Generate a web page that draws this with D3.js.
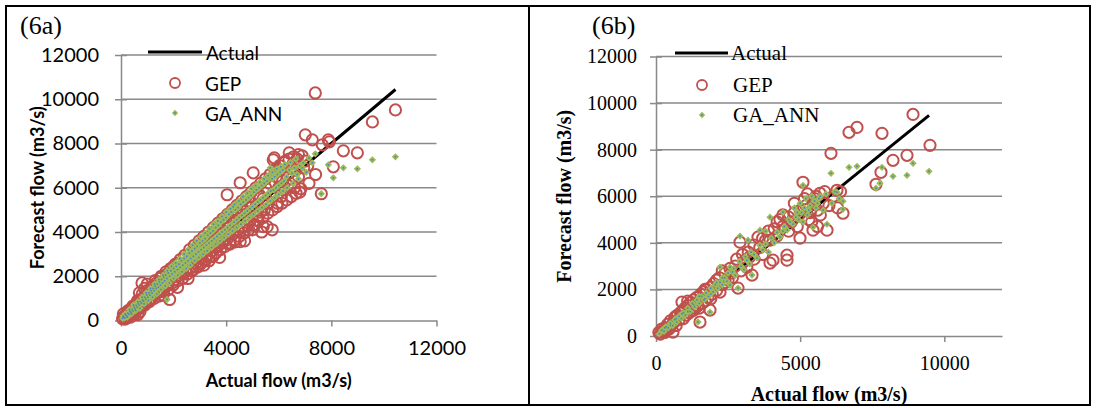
<!DOCTYPE html>
<html><head><meta charset="utf-8">
<script src="https://cdn.jsdelivr.net/npm/d3@7"></script>
<style>body{margin:0;background:#fff}svg{display:block}</style>
</head><body>
<svg id="c" width="1097" height="408"></svg>
<script>
// ---------- DATA ----------
const panelLabels = ["(6a)", "(6b)"];
const seriesNames = ["Actual", "GEP", "GA_ANN"];
const xTickValuesA = [0, 4000, 8000, 12000];
const xTickValuesB = [0, 5000, 10000];
const yTickValues = [0, 2000, 4000, 6000, 8000, 10000, 12000];
const axisTitleX = "Actual flow (m3/s)";
const axisTitleY = "Forecast flow (m3/s)";

// Actual (1:1) line endpoints [actual, actual]
const actualLineA = [[60, 60], [10440, 10440]];
const actualLineB = [[100, 100], [9470, 9470]];

// (6a) GEP [actual, forecast]
const gepA = [[60,80],[120,200],[150,60],[200,300],[250,150],[300,420],[320,230],[380,300],[420,560],[450,350],[500,620],[520,420],[560,740],[600,500],[640,270],[680,860],[700,1250],[720,560],[760,900],[800,1700],[820,700],[860,1050],[900,1450],[940,800],[980,1150],[1000,1650],[1050,900],[1100,1300],[1150,1000],[1200,1550],[1250,1150],[1300,1800],[1350,1250],[1400,1600],[1450,1300],[1500,1900],[1550,1400],[1600,1150],[1650,1800],[1700,1550],[1750,2100],[1800,1650],[1850,950],[1900,2000],[1950,1700],[2000,2450],[2050,1850],[2100,2200],[2150,1500],[2200,2600],[2250,2050],[2300,2400],[2350,2100],[2400,2800],[2450,2200],[2500,2600],[2550,1900],[2600,3000],[2650,2400],[2700,2800],[2750,2300],[2800,3150],[2850,2600],[2900,3000],[2950,2450],[3000,3400],[3050,2800],[3100,3200],[3150,2500],[3200,3500],[3250,2950],[3300,3400],[3350,2700],[3400,3800],[3450,3150],[3500,2900],[3550,3700],[3600,3300],[3650,4000],[3700,3400],[3750,2850],[3800,4100],[3850,3500],[3900,4300],[3950,3600],[4038,5683],[4000,4500],[4050,3700],[4100,4200],[4150,3500],[4200,4700],[4250,3900],[4300,4400],[4350,3550],[4400,4900],[4450,4100],[4500,4600],[4533,6225],[4533,3563],[4600,4200],[4650,5000],[4700,3600],[4750,4800],[4800,4300],[4850,5400],[4900,4500],[4950,5100],[5000,4100],[5029,6676],[5100,4330],[5150,5200],[5200,4700],[5250,5700],[5300,4900],[5350,4000],[5410,4240],[5400,5500],[5450,5000],[5500,6000],[5560,4240],[5600,5300],[5650,6200],[5700,5600],[5750,4100],[5790,7260],[5829,7352],[5850,5800],[5900,6500],[5950,5300],[6000,6000],[6050,6800],[6100,5600],[6150,6300],[6200,5900],[6250,7200],[6300,6600],[6350,6100],[6400,7580],[6450,6900],[6500,6400],[6550,7100],[6600,6000],[6650,6800],[6700,7300],[6750,6500],[6800,5800],[6895,7440],[6950,6900],[7010,8390],[7100,7000],[7276,8165],[7390,10284],[7400,6600],[7619,5728],[7657,7940],[7886,8165],[7924,8074],[8076,6946],[8457,7668],[8990,7578],[9562,8976],[10438,9517],
[90,300],[180,100],[270,450],[360,150],[450,650],[540,300],[630,900],[720,400],[810,1200],[900,700],[990,1350],[1080,850],[1170,1500],[1260,1000],[1350,1700],[1440,1100],[1530,2000],[1620,1300],[1710,2200],[1800,1400],[1890,2350],[1980,1600],[2070,2550],[2160,1800],[2250,2750],[2340,1900],[2430,2950],[2520,2100],[2610,3200],[2700,2250],[2790,3400],[2880,2400],[2970,3600],[3060,2600],[3150,3800],[3240,2750],[3330,4000],[3420,2900],[3510,4200],[3600,3050],[3690,4400],[3780,3200],[3870,4600],[3960,3350],[4050,4800],[4140,3450],[4230,5000],[4320,3650],[4410,5200],[4500,3800],[4590,5400],[4680,3950],[4770,5600],[4860,4100],[4950,5800],[5040,4300],[5130,6000],[5220,4500],[5310,6200],[5400,4650],[5490,6400],[5580,4850],[5670,6600],[5760,5000],[5850,6800],[5940,5150],[6030,7000],[6120,5300],[6210,7150],[6300,5450],[6390,7300],[6480,5600],[6570,7400],[6660,5750],[6750,7500],[6840,5950],[7000,7200],[7150,6200]];

// (6a) GA_ANN [actual, forecast]
const annA = [[60,100],[100,150],[140,120],[180,250],[220,200],[260,330],[300,280],[340,420],[380,360],[420,500],[460,430],[500,600],[540,520],[580,680],[620,600],[660,760],[700,700],[740,850],[780,780],[820,930],[860,870],[900,1050],[940,960],[980,1150],[1020,1050],[1060,1250],[1100,1150],[1140,1350],[1180,1250],[1220,1450],[1260,1350],[1300,1550],[1340,1450],[1380,1650],[1420,1500],[1460,1750],[1500,1600],[1540,1850],[1580,1700],[1620,1950],[1660,1800],[1700,2050],[1752,950],[1750,1900],[1800,2150],[1850,2000],[1900,2250],[1950,2100],[2000,2350],[2050,2200],[2100,2450],[2150,2300],[2200,2550],[2250,2400],[2300,2700],[2350,2500],[2400,2800],[2450,2600],[2500,2900],[2550,2700],[2600,3050],[2650,2800],[2700,3150],[2750,2900],[2800,3250],[2850,3000],[2900,3350],[2950,3100],[3000,3500],[3050,3200],[3100,3600],[3150,3300],[3200,3700],[3250,3400],[3300,3850],[3350,3500],[3400,3950],[3450,3600],[3500,4050],[3550,3700],[3600,4200],[3650,3800],[3700,4300],[3750,3900],[3800,4450],[3850,4000],[3900,4550],[3950,4100],[4000,4650],[4050,4200],[4100,4800],[4150,4300],[4200,4900],[4267,5142],[4300,4450],[4350,5000],[4400,4550],[4450,5100],[4500,4650],[4550,5250],[4600,4750],[4650,5350],[4700,4850],[4750,5450],[4800,4950],[4850,5550],[4900,5050],[4950,5650],[5000,5150],[5050,5800],[5100,5250],[5150,5900],[5200,5350],[5250,6000],[5300,5450],[5350,6100],[5400,5550],[5450,6200],[5500,5650],[5550,6300],[5600,5750],[5676,6900],[5700,5850],[5750,6400],[5800,5900],[5850,6500],[5900,6000],[5950,6600],[6000,6100],[6050,6700],[6100,6200],[6150,6800],[6200,6300],[6300,6500],[6400,6811],[6500,6650],[6600,6900],[6700,6600],[6800,7000],[6933,7126],[7276,7126],[7390,7533],[7619,5728],[7886,7036],[8076,6450],[8457,6901],[8990,6856],[9562,7262],[10438,7397],
[80,200],[160,300],[240,150],[320,500],[400,300],[480,700],[560,450],[640,850],[720,550],[800,1050],[880,750],[960,1250],[1040,900],[1120,1450],[1200,1050],[1280,1650],[1360,1200],[1440,1850],[1520,1400],[1600,2050],[1680,1550],[1760,2250],[1840,1700],[1920,2450],[2000,1900],[2080,2600],[2160,2050],[2240,2800],[2320,2200],[2400,3000],[2480,2350],[2560,3200],[2640,2500],[2720,3400],[2800,2700],[2880,3600],[2960,2850],[3040,3800],[3120,3000],[3200,3950],[3280,3150],[3360,4150],[3440,3300],[3520,4350],[3600,3450],[3680,4500],[3760,3600],[3840,4700],[3920,3750],[4000,4900],[4080,3900],[4160,5050],[4240,4050],[4320,5250],[4400,4200],[4480,5400],[4560,4350],[4640,5600],[4720,4500],[4800,5750],[4880,4650],[4960,5950],[5040,4800],[5120,6100],[5200,4950],[5280,6250],[5360,5100],[5440,6400],[5520,5250],[5600,6550],[5680,5400],[5760,6700],[5840,5550],[5920,6850],[6000,5700],[6080,6950],[6160,5850],[6240,7050],[6320,6000],[6450,7150],[6550,6200],[6650,7300],[6750,6400],[6900,6900],[7050,6700],[7150,7350]];

// (6b) GEP [actual, forecast]
const gepB = [[100,150],[150,80],[200,300],[250,200],[300,350],[350,250],[400,500],[450,300],[500,650],[590,170],[600,550],[650,800],[700,450],[750,900],[800,700],[850,1000],[902,1457],[950,750],[1000,1200],[1050,900],[1100,1300],[1150,1000],[1200,1450],[1250,1100],[1300,1550],[1350,1200],[1400,1650],[1450,1300],[1526,600],[1550,1800],[1600,1400],[1650,1900],[1700,1500],[1750,2000],[1800,1650],[1873,1114],[1900,2100],[1950,1800],[2000,2250],[2100,1950],[2200,2500],[2220,1886],[2300,2200],[2400,2700],[2500,2400],[2566,2900],[2650,2500],[2750,3000],[2844,2057],[2913,4029],[2950,2800],[3050,3200],[3150,2950],[3250,3400],[3330,2614],[3400,3300],[3538,4243],[3600,3800],[3700,3500],[3800,4100],[3954,4114],[3954,3129],[4058,3257],[4100,4600],[4200,4300],[4300,5000],[4400,4700],[4543,3471],[4543,3257],[4600,5100],[4700,4900],[4800,5300],[4900,4700],[4994,4200],[5098,6600],[5200,5600],[5300,5000],[5445,4543],[5500,5900],[5600,5400],[5688,6129],[5800,5700],[5931,4543],[6069,7843],[6277,6257],[6485,5271],[6694,8743],[6971,8957],[7630,6514],[7803,7029],[7838,8700],[8220,7543],[8705,7757],[8914,9514],[9503,8186],
[4800,5700],[5000,5400],[5150,5900],[5250,6100],[5350,5300],[5450,5700],[5550,6000],[5700,5200],[5850,6200],[6000,5600],[6150,6000],[6300,5500],[6400,6200],[5400,4900],[5600,4700],[4600,4500],[4400,5200],[4200,4900],[3900,4500],[3700,4200],[3400,3900],[3200,3600],[3000,3500],[2800,3300],[2600,2700],[2400,2300],[2300,2800],[2100,2400],[1900,1600],[1700,2000],[1500,1200],[1300,1100],[1100,1500],[900,1050],[700,850],[500,400],[300,150]];

// (6b) GA_ANN [actual, forecast]
const annB = [[120,100],[200,250],[280,200],[350,400],[420,350],[500,550],[580,450],[650,700],[720,600],[800,850],[880,750],[950,1000],[1020,900],[1100,1200],[1180,1050],[1260,1400],[1340,1250],[1457,600],[1420,1550],[1500,1400],[1580,1700],[1660,1550],[1740,1850],[1873,1029],[1820,1700],[1900,2050],[1980,1900],[2060,2200],[2140,2050],[2220,2957],[2220,2300],[2300,2200],[2380,2500],[2460,2350],[2566,2186],[2566,2957],[2650,2750],[2750,2600],[2844,2057],[2913,4286],[2950,3000],[3050,2850],[3191,4114],[3150,3250],[3250,3100],[3330,2614],[3400,3500],[3500,3350],[3607,4543],[3700,3700],[3800,3950],[3954,5100],[3900,3600],[4000,4200],[4100,4000],[4200,4450],[4300,4250],[4405,5314],[4450,4700],[4550,4550],[4650,4900],[4750,4800],[4850,5100],[4950,5000],[5098,6471],[5050,5300],[5150,5500],[5250,5200],[5350,5600],[5445,4671],[5500,5800],[5600,5700],[5700,6000],[5931,4800],[6069,6986],[6277,6171],[6485,5443],[6485,5786],[6694,7243],[6971,7286],[7630,6343],[7769,6557],[7838,7243],[8220,6857],[8705,6900],[8914,7414],[9468,7071],
[4800,5500],[5000,5700],[5200,5900],[5300,5400],[5400,6000],[5550,5500],[5650,5900],[5800,5400],[5900,6100],[6100,5700],[6200,6200],[6350,5900],[5100,4900],[4900,5300],[4600,5000],[4400,4500],[3800,4500],[3600,3900],[3300,3600],[3100,3400],[2900,3200],[2700,2900],[2500,2700],[2300,2500],[2100,2300],[1900,1800],[1700,1600],[1500,1700],[1300,1350],[1100,1050],[900,950],[700,750],[500,450],[300,350]];

// ---------- DRAW ----------
const svg = d3.select("#c");
const RED = "#C0504D", GREEN = "#9BBB59", BLUE = "#4F81BD", GRID = "#898989";

function drawPanel(p) {
  const g = svg.append("g");
  const x = d3.scaleLinear().domain([0, 12000]).range([p.x0, p.x1]);
  const y = d3.scaleLinear().domain([0, 12000]).range([p.y0, p.y1]);

  g.append("g").selectAll("line").data(yTickValues.filter(v => v > 0)).join("line")
    .attr("x1", p.x0).attr("x2", p.x1).attr("y1", d => y(d)).attr("y2", d => y(d))
    .attr("stroke", GRID).attr("stroke-width", 1.5);

  const ya = g.append("g").attr("transform", `translate(${p.x0},0)`)
    .call(d3.axisLeft(y).tickValues(yTickValues).tickSize(6).tickPadding(p.yPad).tickSizeOuter(0).tickFormat(d3.format("d")));
  ya.select(".domain").attr("stroke", GRID).attr("stroke-width", 1.5);
  ya.selectAll(".tick line").attr("stroke", GRID).attr("stroke-width", 1.5).attr("x2", -6).attr("x1", 6);
  ya.selectAll(".tick text").attr("font-family", p.font).attr("font-size", p.tickSize).attr("fill", "#000");

  const xa = g.append("g").attr("transform", `translate(0,${p.y0})`)
    .call(d3.axisBottom(x).tickValues(p.xTicks).tickSize(6).tickPadding(p.xPad).tickSizeOuter(0).tickFormat(d3.format("d")));
  xa.select(".domain").attr("stroke", GRID).attr("stroke-width", 1.5);
  xa.selectAll(".tick line").attr("stroke", GRID).attr("stroke-width", 1.5);
  xa.selectAll(".tick text").attr("font-family", p.font).attr("font-size", p.tickSize).attr("fill", "#000");

  g.append("path").datum(p.line)
    .attr("d", d3.line().x(d => x(d[0])).y(d => y(d[1])))
    .attr("stroke", "#000").attr("stroke-width", 3).attr("fill", "none");

  g.append("g").selectAll("circle").data(p.gep).join("circle")
    .attr("cx", d => x(d[0])).attr("cy", d => y(d[1])).attr("r", 5.6)
    .attr("fill", "none").attr("stroke", RED).attr("stroke-width", 2);

  const dia = d3.symbol().type(d3.symbolDiamond2).size(34);
  const ag = g.append("g");
  ag.selectAll("path").data(p.ann).join("path")
    .attr("transform", d => `translate(${x(d[0])},${y(d[1])})`)
    .attr("d", dia).attr("fill", GREEN);
  ag.selectAll("rect").data(p.ann).join("rect")
    .attr("x", d => x(d[0]) - 0.8).attr("y", d => y(d[1]) - 0.8)
    .attr("width", 1.6).attr("height", 1.6).attr("fill", BLUE);

  g.append("text").attr("x", (p.x0 + p.x1) / 2).attr("y", p.xTitleY)
    .attr("text-anchor", "middle").attr("dominant-baseline", "central")
    .attr("font-family", p.font).attr("font-size", p.titleSize).attr("font-weight", "bold").text(axisTitleX);
  g.append("text").attr("transform", `translate(${p.yTitleX},${(p.y0 + p.y1) / 2}) rotate(-90)`)
    .attr("text-anchor", "middle").attr("dominant-baseline", "central")
    .attr("font-family", p.font).attr("font-size", p.titleSize).attr("font-weight", "bold").text(axisTitleY);

  g.append("text").attr("x", p.labelX).attr("y", 34)
    .attr("font-family", "Liberation Serif, Times New Roman, serif").attr("font-size", 26).text(p.label);

  const L = p.leg;
  g.append("line").attr("x1", L.lx0).attr("x2", L.lx1).attr("y1", L.y[0]).attr("y2", L.y[0])
    .attr("stroke", "#000").attr("stroke-width", 3);
  g.append("circle").attr("cx", L.mx).attr("cy", L.y[1]).attr("r", 5)
    .attr("fill", "none").attr("stroke", RED).attr("stroke-width", 1.8);
  g.append("path").attr("transform", `translate(${L.mx},${L.y[2]})`).attr("d", d3.symbol().type(d3.symbolDiamond2).size(26)).attr("fill", GREEN);
  g.append("rect").attr("x", L.mx - 0.8).attr("y", L.y[2] - 0.8).attr("width", 1.6).attr("height", 1.6).attr("fill", BLUE);
  g.append("g").selectAll("text").data(seriesNames).join("text")
    .attr("x", (d, i) => i === 0 ? L.tx0 : L.tx).attr("y", (d, i) => L.y[i])
    .attr("dominant-baseline", "central")
    .attr("font-family", p.font).attr("font-size", L.size).text(d => d);
}

drawPanel({
  x0: 121, x1: 436.5, y0: 320.5, y1: 55,
  xTicks: xTickValuesA, font: "Lato, 'Open Sans', sans-serif", tickSize: 20, titleSize: 18,
  yPad: 16, xPad: 14, xTitleY: 380, yTitleX: 37,
  line: actualLineA, gep: gepA, ann: annA, label: panelLabels[0], labelX: 20,
  leg: { lx0: 148, lx1: 202, mx: 175, tx0: 206, tx: 205, y: [52, 83, 113], size: 19 }
});
drawPanel({
  x0: 656, x1: 1002, y0: 336, y1: 56.5,
  xTicks: xTickValuesB, font: "'Liberation Serif', 'Times New Roman', serif", tickSize: 20, titleSize: 20,
  yPad: 13, xPad: 14, xTitleY: 394, yTitleX: 564,
  line: actualLineB, gep: gepB, ann: annB, label: panelLabels[1], labelX: 592,
  leg: { lx0: 675, lx1: 728, mx: 702, tx0: 731, tx: 733, y: [53, 85, 115], size: 21 }
});

svg.append("rect").attr("x", 6).attr("y", 6).attr("width", 1084).attr("height", 399)
  .attr("fill", "none").attr("stroke", "#000").attr("stroke-width", 2);
svg.append("line").attr("x1", 529).attr("x2", 529).attr("y1", 6).attr("y2", 405)
  .attr("stroke", "#000").attr("stroke-width", 2);
</script>
</body></html>
